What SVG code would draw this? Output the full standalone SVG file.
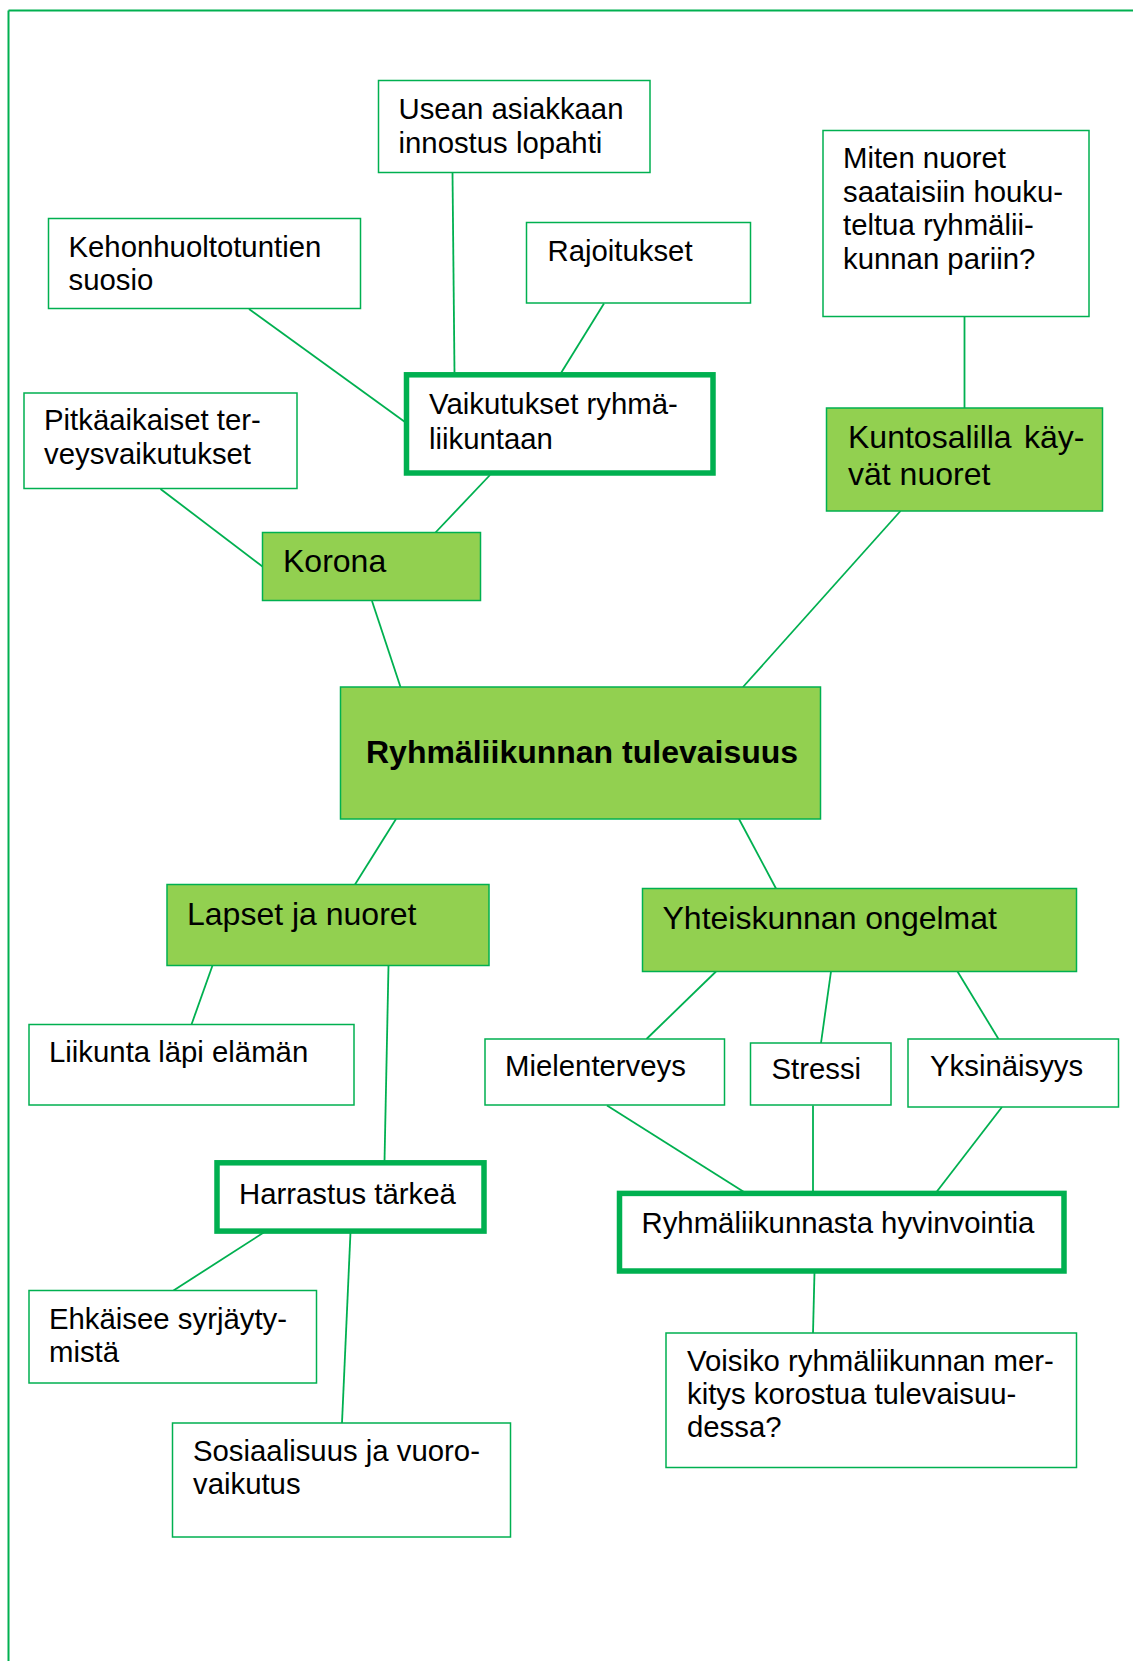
<svg xmlns="http://www.w3.org/2000/svg" width="1133" height="1661" viewBox="0 0 1133 1661">
<style>
  .box{fill:#ffffff;stroke:#00B050;stroke-width:1.5}
  .gbox{fill:#92D050;stroke:#00B050;stroke-width:1.5}
  .tbox{fill:#ffffff;stroke:#00B050;stroke-width:5.5}
  .t{font-family:"Liberation Sans",Arial,sans-serif;font-size:29.33px;fill:#000000}
  .tl{font-family:"Liberation Sans",Arial,sans-serif;font-size:32px;fill:#000000}
  .tb{font-family:"Liberation Sans",Arial,sans-serif;font-size:32px;font-weight:bold;fill:#000000}
  .c line{stroke:#00B050;stroke-width:1.8}
</style>
<rect width="1133" height="1661" fill="#ffffff"/>
<g id="frame">
  <line x1="8.5" y1="10.5" x2="1133" y2="10.5" stroke="#00B050" stroke-width="2"/>
  <line x1="8.5" y1="10.5" x2="8.5" y2="1661" stroke="#00B050" stroke-width="2"/>
</g>
<g class="c" id="connectors">
  <line x1="452.5" y1="173" x2="454.5" y2="373"/>
  <line x1="249" y1="309" x2="405" y2="422"/>
  <line x1="604" y1="303.5" x2="561" y2="373"/>
  <line x1="964.5" y1="317" x2="964.5" y2="408"/>
  <line x1="160.5" y1="489" x2="262.5" y2="566.5"/>
  <line x1="490" y1="475" x2="435.5" y2="532.5"/>
  <line x1="900.5" y1="511" x2="743" y2="687"/>
  <line x1="372" y1="601" x2="400.5" y2="687"/>
  <line x1="396" y1="819" x2="355" y2="884.5"/>
  <line x1="739" y1="819" x2="776" y2="888.5"/>
  <line x1="212.5" y1="965.5" x2="191.5" y2="1024.5"/>
  <line x1="388.5" y1="965.5" x2="384.5" y2="1162"/>
  <line x1="716" y1="971.5" x2="646.5" y2="1039"/>
  <line x1="831" y1="971.5" x2="821" y2="1043"/>
  <line x1="957.5" y1="971.5" x2="998.5" y2="1039"/>
  <line x1="607" y1="1105.5" x2="744" y2="1192"/>
  <line x1="813" y1="1105.5" x2="813" y2="1192"/>
  <line x1="1002" y1="1107" x2="936.5" y2="1192"/>
  <line x1="264.5" y1="1232" x2="173.5" y2="1290.5"/>
  <line x1="350.5" y1="1232" x2="342" y2="1423"/>
  <line x1="814.5" y1="1272" x2="813" y2="1333"/>
</g>
<g id="n-usean">
  <rect class="box" x="378.5" y="80.5" width="271.5" height="92"/>
  <text class="t" x="398.5" y="119">Usean asiakkaan</text>
  <text class="t" x="398.5" y="152.5">innostus lopahti</text>
</g>
<g id="n-keho">
  <rect class="box" x="48.5" y="218.5" width="312" height="90"/>
  <text class="t" x="68.5" y="256.5">Kehonhuoltotuntien</text>
  <text class="t" x="68.5" y="290">suosio</text>
</g>
<g id="n-rajoitukset">
  <rect class="box" x="526.5" y="222.5" width="224" height="80.5"/>
  <text class="t" x="547.5" y="260.5">Rajoitukset</text>
</g>
<g id="n-miten">
  <rect class="box" x="823" y="130.5" width="266" height="186"/>
  <text class="t" x="843" y="168">Miten nuoret</text>
  <text class="t" x="843" y="201.5">saataisiin houku-</text>
  <text class="t" x="843" y="235">teltua ryhmälii-</text>
  <text class="t" x="843" y="268.5">kunnan pariin?</text>
</g>
<g id="n-vaikutukset">
  <rect class="tbox" x="406.5" y="374.8" width="306.5" height="98.2"/>
  <text class="t" x="429" y="414">Vaikutukset ryhmä-</text>
  <text class="t" x="429" y="448.5">liikuntaan</text>
</g>
<g id="n-pitka">
  <rect class="box" x="24" y="393" width="273" height="95.5"/>
  <text class="t" x="44" y="429.5">Pitkäaikaiset ter-</text>
  <text class="t" x="44" y="463.5">veysvaikutukset</text>
</g>
<g id="n-kuntosali">
  <rect class="gbox" x="826.5" y="408" width="276" height="103"/>
  <text class="tl" x="848" y="448" word-spacing="3.5">Kuntosalilla käy-</text>
  <text class="tl" x="848" y="484.5">vät nuoret</text>
</g>
<g id="n-korona">
  <rect class="gbox" x="262.5" y="532.5" width="218" height="68"/>
  <text class="tl" x="283" y="572">Korona</text>
</g>
<g id="n-central">
  <rect class="gbox" x="340.5" y="687" width="480" height="132"/>
  <text class="tb" x="366" y="763">Ryhmäliikunnan tulevaisuus</text>
</g>
<g id="n-lapset">
  <rect class="gbox" x="167" y="884.5" width="322" height="81"/>
  <text class="tl" x="187" y="925">Lapset ja nuoret</text>
</g>
<g id="n-yhteis">
  <rect class="gbox" x="642.5" y="888.5" width="434" height="83"/>
  <text class="tl" x="662.5" y="928.5">Yhteiskunnan ongelmat</text>
</g>
<g id="n-liikunta">
  <rect class="box" x="29" y="1024.5" width="325" height="80.5"/>
  <text class="t" x="49" y="1062">Liikunta läpi elämän</text>
</g>
<g id="n-mielen">
  <rect class="box" x="485" y="1039" width="239.5" height="66"/>
  <text class="t" x="505" y="1075.5">Mielenterveys</text>
</g>
<g id="n-stressi">
  <rect class="box" x="750.5" y="1043" width="140.5" height="62"/>
  <text class="t" x="771.5" y="1079">Stressi</text>
</g>
<g id="n-yksin">
  <rect class="box" x="908" y="1039" width="210.5" height="68"/>
  <text class="t" x="930" y="1075.5">Yksinäisyys</text>
</g>
<g id="n-harrastus">
  <rect class="tbox" x="217" y="1162.8" width="267" height="68.3"/>
  <text class="t" x="239" y="1203.5">Harrastus tärkeä</text>
</g>
<g id="n-hyvinvointia">
  <rect class="tbox" x="619.5" y="1193.4" width="444.5" height="77.6"/>
  <text class="t" x="641.5" y="1232.5">Ryhmäliikunnasta hyvinvointia</text>
</g>
<g id="n-ehkaisee">
  <rect class="box" x="29" y="1290.5" width="287.5" height="92.5"/>
  <text class="t" x="49" y="1328.5">Ehkäisee syrjäyty-</text>
  <text class="t" x="49" y="1362">mistä</text>
</g>
<g id="n-sosiaalisuus">
  <rect class="box" x="172.5" y="1423" width="338" height="114"/>
  <text class="t" x="193" y="1460.5">Sosiaalisuus ja vuoro-</text>
  <text class="t" x="193" y="1493.5">vaikutus</text>
</g>
<g id="n-voisiko">
  <rect class="box" x="666" y="1333" width="410.5" height="134.5"/>
  <text class="t" x="687" y="1370.5">Voisiko ryhmäliikunnan mer-</text>
  <text class="t" x="687" y="1403.5">kitys korostua tulevaisuu-</text>
  <text class="t" x="687" y="1437">dessa?</text>
</g>
</svg>
